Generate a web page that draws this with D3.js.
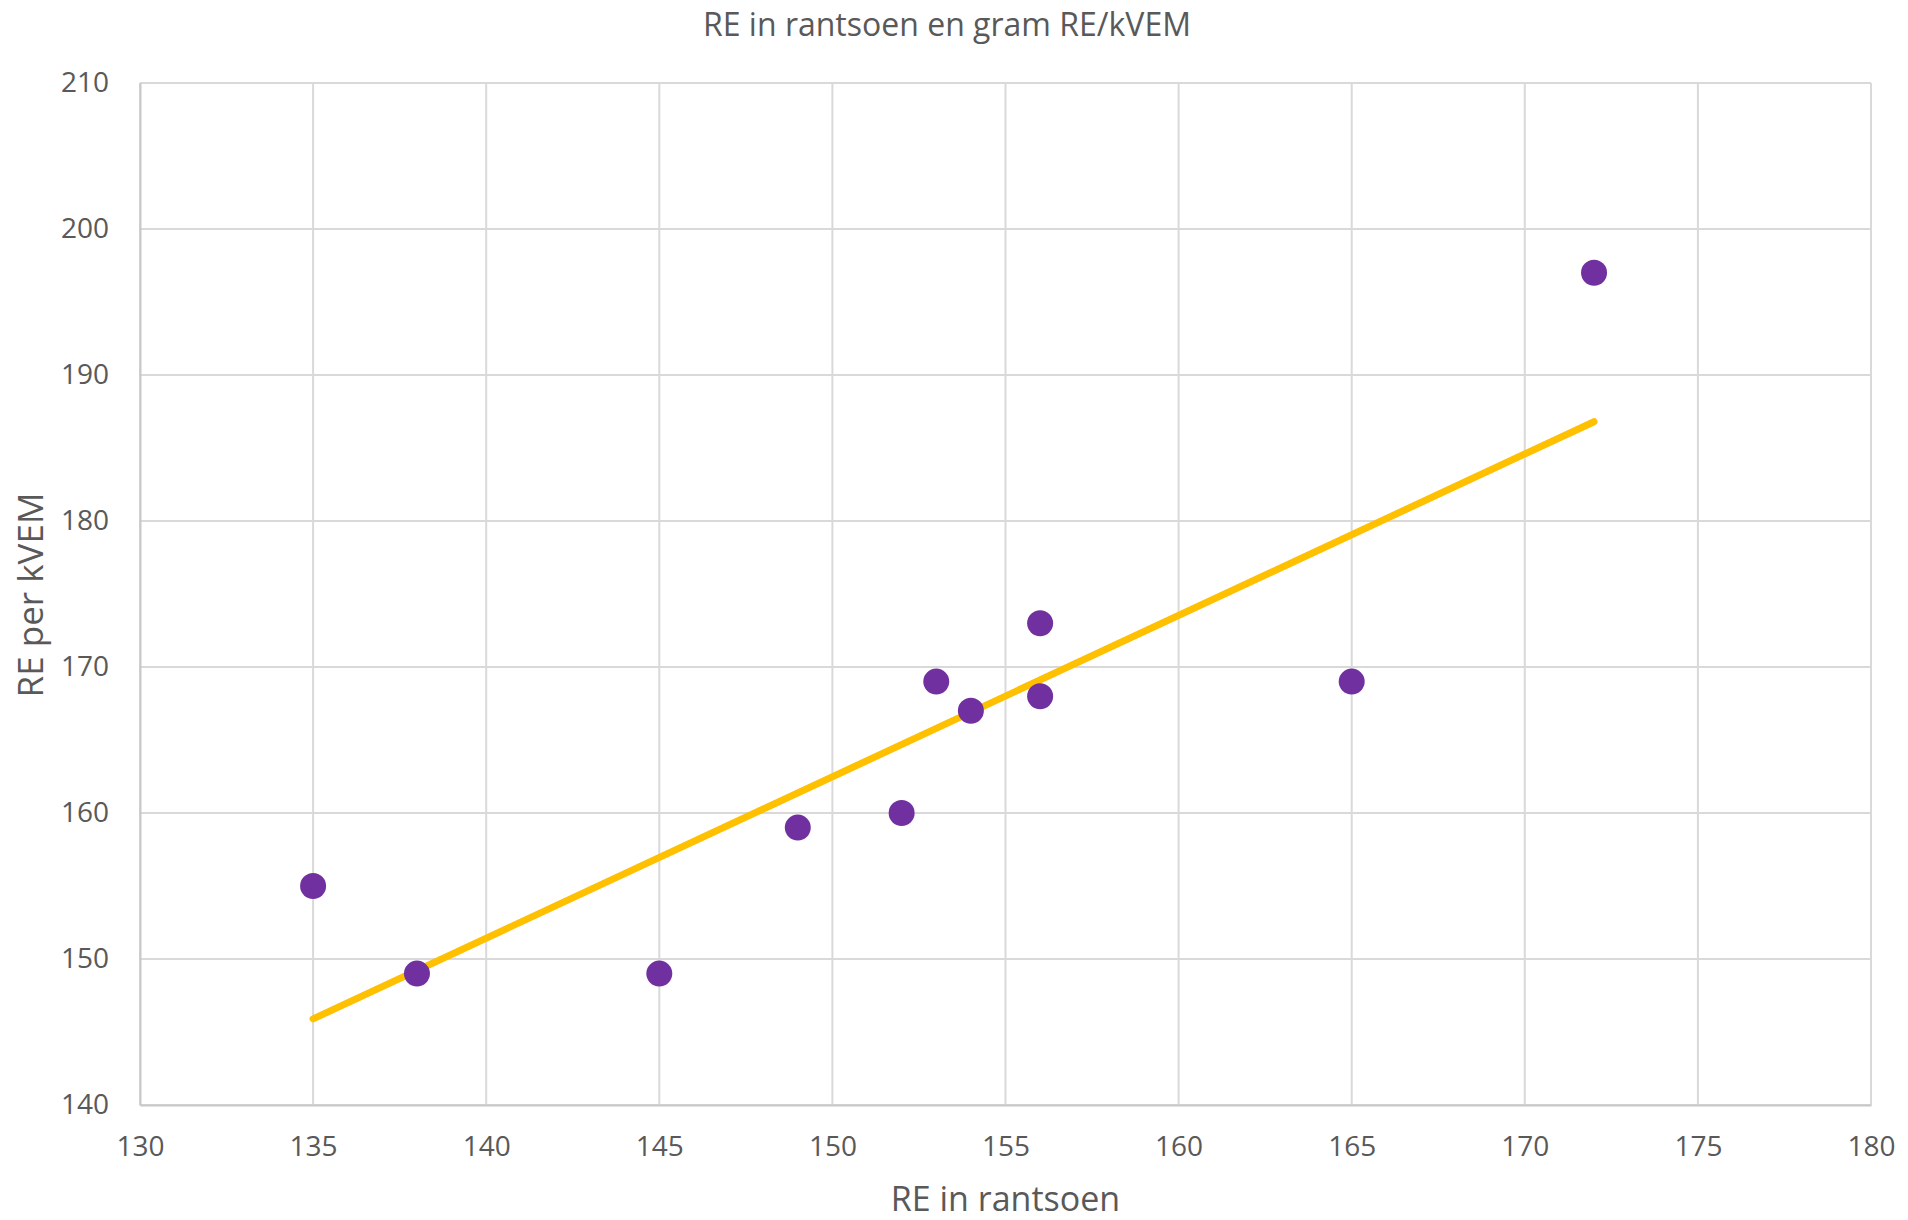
<!DOCTYPE html>
<html>
<head>
<meta charset="utf-8">
<script src="https://cdn.jsdelivr.net/npm/d3@7"></script>
<style>
  body { margin: 0; background: #fff; }
  text { font-family: "Open Sans", sans-serif; fill: #595959; }
</style>
</head>
<body>
<script>
// data
const reRantsoen = [135, 138, 145, 149, 152, 153, 154, 156, 156, 165, 172];
const rePerKvem  = [155, 149, 149, 159, 160, 169, 167, 173, 168, 169, 197];
const trendX = [135, 172];
const trendY = [145.9, 186.8];
const xTicks = [130, 135, 140, 145, 150, 155, 160, 165, 170, 175, 180];
const yTicks = [140, 150, 160, 170, 180, 190, 200, 210];

const W = 1908, H = 1220;
const plotL = 140, plotR = 1871, plotT = 83, plotB = 1105;

const svg = d3.select("body").append("svg")
  .attr("width", W).attr("height", H);

const x = d3.scaleLinear().domain([130, 180]).range([plotL, plotR]);
const y = d3.scaleLinear().domain([140, 210]).range([plotB, plotT]);

// grid
svg.append("g")
  .selectAll("line").data(xTicks).enter().append("line")
  .attr("x1", d => x(d)).attr("x2", d => x(d))
  .attr("y1", plotT).attr("y2", plotB)
  .attr("stroke", "#d9d9d9").attr("stroke-width", 2);
svg.append("g")
  .selectAll("line").data(yTicks).enter().append("line")
  .attr("x1", plotL).attr("x2", plotR)
  .attr("y1", d => y(d)).attr("y2", d => y(d))
  .attr("stroke", "#d9d9d9").attr("stroke-width", 2);

// axes (lines only, labels drawn by d3.axis without ticks)
const xAxis = svg.append("g")
  .attr("transform", "translate(0," + plotB + ")")
  .call(d3.axisBottom(x).tickValues(xTicks).tickSize(0).tickPadding(31));
const yAxis = svg.append("g")
  .attr("transform", "translate(" + plotL + ",0)")
  .call(d3.axisLeft(y).tickValues(yTicks).tickSize(0).tickPadding(31));
[xAxis, yAxis].forEach(a => {
  a.select(".domain").attr("stroke", "#c8c8c8").attr("stroke-width", 2);
  a.selectAll("text")
    .style("font-family", '"Open Sans", sans-serif')
    .style("font-size", "28px").attr("fill", "#595959");
});

// trendline
const line = d3.line().x(d => x(d[0])).y(d => y(d[1]));
svg.append("path")
  .datum(trendX.map((v, i) => [v, trendY[i]]))
  .attr("d", line)
  .attr("fill", "none")
  .attr("stroke", "#ffc000")
  .attr("stroke-width", 7)
  .attr("stroke-linecap", "round");

// points
svg.append("g")
  .selectAll("circle").data(reRantsoen).enter().append("circle")
  .attr("cx", d => x(d))
  .attr("cy", (d, i) => y(rePerKvem[i]))
  .attr("r", 13)
  .attr("fill", "#7030a0");

// titles
svg.append("text")
  .attr("x", 947).attr("y", 36)
  .attr("text-anchor", "middle")
  .style("font-size", "32px")
  .text("RE in rantsoen en gram RE/kVEM");

svg.append("text")
  .attr("x", x(155)).attr("y", 1211)
  .attr("text-anchor", "middle")
  .style("font-size", "34px")
  .text("RE in rantsoen");

svg.append("text")
  .attr("transform", "translate(43," + 595 + ") rotate(-90)")
  .attr("text-anchor", "middle")
  .style("font-size", "35px")
  .text("RE per kVEM");
</script>
</body>
</html>
